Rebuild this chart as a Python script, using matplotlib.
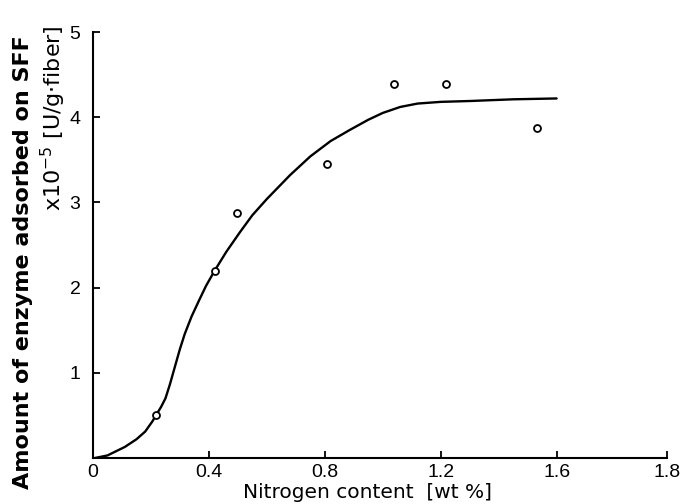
import numpy as np
import matplotlib
matplotlib.use('Agg')
import matplotlib.pyplot as plt

# --------- data ---------
# measured points (open circles)
n_pts = [0.217, 0.42, 0.497, 0.807, 1.04, 1.217, 1.534]
amt_pts = [0.50, 2.20, 2.87, 3.45, 4.39, 4.39, 3.87]

# hand-drawn fit curve, traced point by point
n_curve = [0.007, 0.05, 0.11, 0.15, 0.18, 0.205, 0.217, 0.235, 0.25, 0.265,
           0.28, 0.30, 0.317, 0.34, 0.366, 0.39, 0.42, 0.46, 0.507, 0.55,
           0.60, 0.68, 0.75, 0.82, 0.886, 0.95, 1.00, 1.06, 1.12, 1.20,
           1.30, 1.45, 1.60]
amt_curve = [0.00, 0.03, 0.13, 0.22, 0.31, 0.43, 0.50, 0.60, 0.70, 0.86,
             1.04, 1.28, 1.46, 1.66, 1.85, 2.02, 2.20, 2.42, 2.65, 2.85,
             3.04, 3.32, 3.54, 3.72, 3.85, 3.97, 4.05, 4.12, 4.16, 4.18,
             4.19, 4.21, 4.22]

x_ticks = [0, 0.4, 0.8, 1.2, 1.6, 1.98]
x_ticklabels = ['0', '0.4', '0.8', '1.2', '1.6', '1.8']
y_ticks = [0, 1, 2, 3, 4, 5]
y_ticklabels = ['', '1', '2', '3', '4', '5']

plt.rcParams['font.family'] = ['Liberation Sans', 'DejaVu Sans']

fig = plt.figure(figsize=(6.81, 5.04), dpi=100)
ax = fig.add_axes([0.1366, 0.0913, 0.8424, 0.8452])

ax.plot(n_curve, amt_curve, color='black', lw=1.7,
        solid_capstyle='round', solid_joinstyle='round')
ax.plot(n_pts, amt_pts, 'o', ms=5, mfc='white', mec='black', mew=1.3)

ax.set_xlim(0, 1.98)
ax.set_ylim(0, 5)
ax.set_xticks(x_ticks)
ax.set_xticklabels(x_ticklabels)
ax.set_yticks(y_ticks)
ax.set_yticklabels(y_ticklabels)

for s in ['top', 'right']:
    ax.spines[s].set_visible(False)
for s in ['left', 'bottom']:
    ax.spines[s].set_linewidth(1.5)

ax.tick_params(direction='in', length=5, width=1.3, labelsize=14)
ax.tick_params(axis='x', pad=4)
ax.tick_params(axis='y', pad=9)

fig.text(0.54, 0.022, 'Nitrogen content  [wt %]', ha='center', va='center',
         fontsize=14.5, family='DejaVu Sans')
fig.text(0.034, 0.48, 'Amount of enzyme adsorbed on SFF', rotation=90,
         ha='center', va='center', fontsize=16, family='DejaVu Sans',
         weight='semibold')
fig.text(0.079, 0.765, r'x10$^{-5}$ [U/g$\cdot$fiber]', rotation=90,
         ha='center', va='center', fontsize=16, family='DejaVu Sans')

fig.savefig('out.png', dpi=100)
